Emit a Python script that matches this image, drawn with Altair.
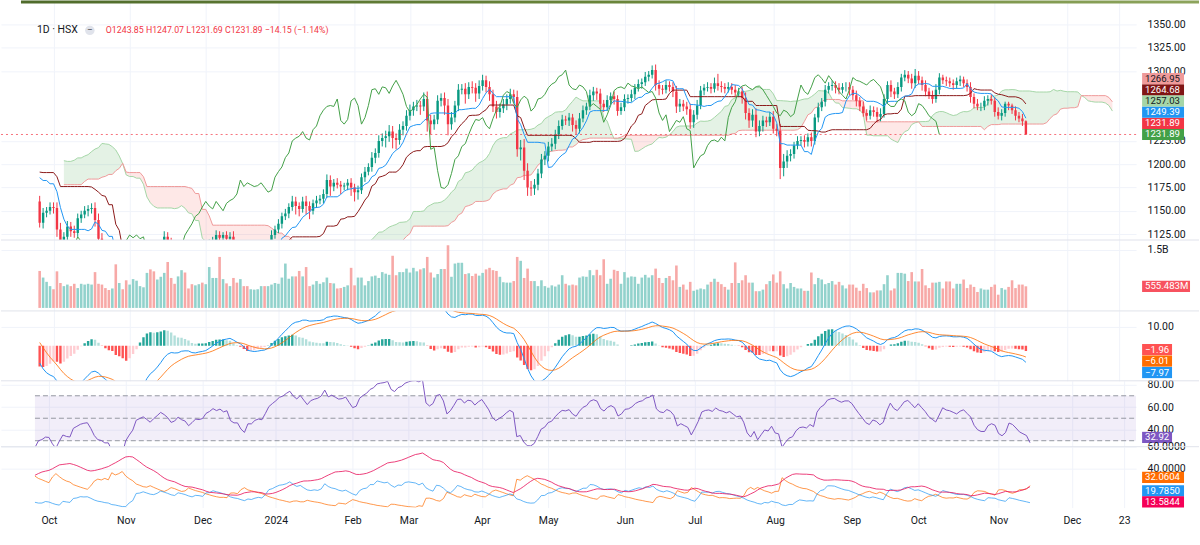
import numpy as np
import pandas as pd
import altair as alt

FONT = "Roboto"
TXT = "#131722"
GRID = "#f0f3fa"
UP, DOWN = "#089981", "#F23645"
VOL_UP, VOL_DOWN = "#92D2CC", "#F7A9A7"

# ---------------- calendar (HSX trading days) ----------------
HOLIDAYS = ["2023-09-01", "2023-09-04", "2024-01-01", "2024-02-08", "2024-02-09",
            "2024-02-12", "2024-02-13", "2024-02-14", "2024-04-18", "2024-04-29",
            "2024-04-30", "2024-05-01", "2024-09-02", "2024-09-03"]
TICK_DATES = ["2023-10-02", "2023-11-01", "2023-12-01", "2024-01-02", "2024-02-01",
              "2024-03-01", "2024-04-01", "2024-05-02", "2024-06-03", "2024-07-01",
              "2024-08-01", "2024-09-04", "2024-10-01", "2024-11-01", "2024-12-02",
              "2024-12-23"]
TICK_LABELS = ["Oct", "Nov", "Dec", "2024", "Feb", "Mar", "Apr", "May", "Jun", "Jul",
               "Aug", "Sep", "Oct", "Nov", "Dec", "23"]
FIRST_DATA = "2023-06-01"
FIRST_SHOWN = "2023-09-26"

# ---------------- daily closes (VN-Index) ----------------
C_2023_06 = [1076, 1082, 1090, 1095, 1103, 1100, 1106, 1112, 1116, 1110, 1118, 1125, 1127, 1121, 1126, 1127, 1124, 1117, 1123, 1127, 1125, 1120]
C_2023_07 = [1126, 1127, 1133, 1131, 1140, 1143, 1155, 1162, 1165, 1165, 1168, 1170, 1170, 1173, 1173, 1175, 1180, 1192, 1197, 1207, 1207]
C_2023_08 = [1215, 1218, 1213, 1217, 1222, 1229, 1227, 1235, 1233, 1238, 1240, 1230, 1225, 1177, 1179, 1185, 1190, 1183, 1176, 1190, 1200, 1207, 1225]
C_2023_09 = [1230, 1239, 1234, 1242, 1245, 1241, 1234, 1228, 1229, 1223, 1222, 1213, 1200, 1176, 1160, 1137, 1148, 1150, 1154]
C_2023_10 = [1153, 1130, 1110, 1122, 1133, 1128, 1126, 1142, 1146, 1150, 1152, 1153, 1140, 1120, 1106, 1103, 1094, 1094, 1061, 1064, 1047, 1028]
C_2023_11 = [1052, 1064, 1075, 1101, 1106, 1111, 1104, 1096, 1105, 1113, 1122, 1117, 1110, 1098, 1101, 1110, 1104, 1101, 1090, 1096, 1103, 1102]
C_2023_12 = [1104, 1114, 1118, 1124, 1121, 1124, 1120, 1122, 1107, 1103, 1103, 1092, 1085, 1097, 1097, 1102, 1104, 1103, 1112, 1124, 1130]
C_2024_01 = [1136, 1144, 1147, 1154, 1160, 1155, 1152, 1160, 1155, 1150, 1158, 1161, 1163, 1168, 1183, 1176, 1180, 1178, 1176, 1177, 1180, 1175]
C_2024_02 = [1170, 1172, 1186, 1192, 1197, 1207, 1212, 1225, 1228, 1230, 1235, 1228, 1226, 1237, 1241, 1252]
C_2024_03 = [1258, 1262, 1263, 1262, 1270, 1247, 1243, 1248, 1268, 1271, 1263, 1243, 1250, 1263, 1280, 1281, 1275, 1283, 1282, 1276, 1284]
C_2024_04 = [1290, 1283, 1275, 1262, 1256, 1260, 1264, 1270, 1275, 1272, 1216, 1218, 1193, 1175, 1174, 1178, 1190, 1205, 1209]
C_2024_05 = [1219, 1222, 1232, 1241, 1248, 1247, 1250, 1242, 1238, 1249, 1258, 1262, 1274, 1278, 1276, 1265, 1261, 1269, 1273, 1270, 1257, 1261]
C_2024_06 = [1270, 1271, 1275, 1282, 1286, 1288, 1294, 1296, 1301, 1285, 1281, 1280, 1285, 1283, 1278, 1262, 1265, 1262, 1259, 1245]
C_2024_07 = [1253, 1263, 1279, 1282, 1283, 1281, 1287, 1284, 1283, 1281, 1283, 1280, 1277, 1278, 1271, 1255, 1247, 1253, 1235, 1241, 1247, 1245, 1251]
C_2024_08 = [1238, 1236, 1196, 1203, 1209, 1211, 1220, 1225, 1226, 1224, 1229, 1225, 1250, 1261, 1267, 1280, 1284, 1285, 1282, 1280, 1283, 1283]
C_2024_09 = [1280, 1274, 1268, 1262, 1255, 1252, 1258, 1256, 1251, 1254, 1270, 1285, 1278, 1275, 1283, 1293, 1296, 1292, 1287]
C_2024_10 = [1295, 1290, 1285, 1278, 1274, 1270, 1280, 1293, 1290, 1289, 1287, 1285, 1289, 1291, 1287, 1283, 1272, 1265, 1262, 1262, 1268, 1270, 1268]
C_2024_11 = [1256, 1252, 1255, 1265, 1263, 1258, 1252, 1249, 1246.04, 1231.89]

# upper / lower wick lengths (points)
U_2023_06 = [3, 4, 5, 3, 4, 6, 3, 4, 5, 3, 6, 4, 3, 5, 4, 3, 4, 3, 5, 4, 3, 4]
D_2023_06 = [4, 3, 5, 4, 3, 4, 5, 3, 4, 6, 3, 4, 5, 3, 4, 5, 3, 6, 3, 4, 5, 3]
U_2023_07 = [4, 3, 5, 4, 6, 3, 5, 4, 3, 5, 4, 3, 4, 5, 3, 4, 6, 5, 4, 6, 5]
D_2023_07 = [3, 5, 4, 3, 4, 5, 3, 4, 5, 3, 4, 5, 3, 4, 4, 5, 3, 4, 5, 4, 6]
U_2023_08 = [5, 4, 6, 5, 4, 5, 6, 4, 5, 6, 5, 4, 6, 8, 5, 6, 5, 4, 6, 5, 6, 5, 7]
D_2023_08 = [6, 5, 4, 6, 5, 4, 5, 6, 4, 5, 6, 7, 8, 10, 9, 6, 5, 7, 6, 4, 5, 4, 5]
U_2023_09 = [5, 6, 5, 7, 6, 5, 4, 5, 4, 5, 4, 5, 6, 6, 5, 6, 5, 4, 5]
D_2023_09 = [5, 4, 6, 5, 6, 7, 6, 5, 6, 5, 6, 7, 8, 9, 7, 5, 6, 5, 4]
U_2023_10 = [5, 6, 7, 5, 6, 5, 6, 5, 4, 5, 4, 5, 6, 7, 6, 5, 6, 5, 8, 6, 7, 9]
D_2023_10 = [6, 8, 9, 7, 5, 6, 5, 4, 5, 4, 6, 5, 7, 8, 7, 6, 8, 7, 9, 8, 9, 10]
U_2023_11 = [6, 7, 5, 6, 5, 7, 6, 5, 6, 5, 6, 5, 4, 5, 4, 5, 6, 5, 4, 5, 4, 5]
D_2023_11 = [8, 6, 5, 4, 6, 5, 6, 7, 5, 6, 5, 6, 7, 6, 5, 4, 5, 6, 7, 5, 4, 5]
U_2023_12 = [4, 5, 4, 5, 4, 3, 4, 5, 6, 5, 4, 3, 4, 5, 4, 3, 4, 3, 4, 5, 4]
D_2023_12 = [5, 4, 5, 4, 5, 4, 5, 6, 7, 6, 5, 6, 7, 5, 4, 3, 4, 5, 4, 3, 4]
U_2024_01 = [5, 4, 5, 4, 6, 5, 4, 5, 6, 5, 4, 5, 4, 5, 6, 5, 4, 5, 4, 3, 4, 5]
D_2024_01 = [4, 5, 4, 5, 4, 9, 8, 4, 9, 9, 4, 5, 4, 5, 4, 10, 5, 4, 8, 4, 5, 9]
U_2024_02 = [4, 5, 4, 5, 4, 6, 5, 6, 5, 6, 7, 6, 5, 6, 5, 6]
D_2024_02 = [10, 8, 4, 5, 4, 5, 6, 5, 6, 10, 6, 11, 10, 5, 6, 5]
U_2024_03 = [6, 5, 6, 5, 7, 8, 6, 5, 6, 5, 6, 7, 6, 5, 6, 5, 6, 5, 6, 5, 6]
D_2024_03 = [5, 6, 5, 9, 5, 12, 11, 6, 5, 6, 10, 12, 6, 5, 6, 5, 10, 5, 6, 9, 6]
U_2024_04 = [6, 5, 6, 5, 6, 5, 6, 5, 6, 5, 7, 8, 9, 8, 7, 6, 5, 6, 5]
D_2024_04 = [5, 6, 7, 6, 7, 6, 5, 6, 5, 6, 8, 12, 10, 9, 8, 7, 6, 5, 6]
U_2024_05 = [5, 6, 5, 6, 5, 4, 5, 4, 5, 6, 5, 4, 6, 5, 4, 5, 4, 5, 4, 5, 4, 5]
D_2024_05 = [6, 5, 6, 5, 4, 5, 6, 7, 6, 5, 4, 5, 4, 6, 7, 6, 5, 4, 5, 6, 5, 4]
U_2024_06 = [5, 4, 5, 4, 5, 4, 5, 4, 5, 6, 5, 4, 5, 4, 5, 6, 5, 4, 5, 6]
D_2024_06 = [4, 5, 4, 5, 4, 5, 4, 5, 4, 6, 7, 5, 4, 5, 6, 7, 6, 5, 6, 7]
U_2024_07 = [5, 6, 5, 4, 5, 4, 6, 10, 5, 4, 5, 4, 5, 4, 5, 6, 5, 6, 7, 6, 5, 4, 5]
D_2024_07 = [6, 5, 4, 5, 4, 5, 4, 5, 6, 5, 4, 5, 4, 5, 6, 7, 8, 7, 6, 5, 6, 5, 4]
U_2024_08 = [6, 5, 7, 8, 6, 5, 4, 5, 4, 5, 4, 5, 4, 5, 4, 5, 4, 5, 4, 5, 4, 5]
D_2024_08 = [5, 6, 12, 9, 7, 6, 5, 4, 5, 6, 5, 6, 4, 5, 4, 5, 4, 5, 6, 5, 4, 5]
U_2024_09 = [5, 4, 5, 4, 5, 4, 5, 4, 5, 6, 5, 4, 5, 4, 5, 4, 5, 4, 5]
D_2024_09 = [6, 5, 6, 5, 4, 5, 4, 5, 6, 5, 4, 5, 6, 5, 4, 5, 4, 5, 6]
U_2024_10 = [7.21, 5, 4, 5, 4, 5, 6, 4.67, 3, 4, 4, 4, 4, 4, 3, 4, 5, 4, 5, 4, 5, 4, 5]
D_2024_10 = [5, 4, 6, 5, 4, 5, 4, 5, 4, 5, 4, 5, 4, 5, 4, 5, 6, 5, 4, 5, 4, 5, 4]
U_2024_11 = [4, 5, 4, 2.09, 2, 2, 4, 4, 5, 1.03]
D_2024_11 = [5, 4, 5, 4, 5, 4, 5, 4, 5, 0.2]

# volume (millions of shares), 26 Sep 2023 .. 14 Nov 2024
VOLUME = [
    950, 780, 670, 560, 480, 940, 640, 560, 600, 560,
    620, 510, 620, 600, 620, 600, 920, 620, 600, 510,
    460, 500, 1120, 640, 480, 710, 600, 740, 700, 560,
    530, 900, 990, 940, 730, 800, 900, 1180, 770, 620,
    810, 970, 910, 500, 610, 580, 610, 650, 610, 1050,
    770, 770, 1310, 740, 630, 560, 770, 650, 740, 560,
    560, 480, 470, 480, 560, 560, 560, 600, 640, 620,
    780, 1140, 750, 810, 810, 950, 810, 1050, 560, 600,
    690, 620, 660, 780, 640, 630, 500, 510, 540, 580,
    1030, 580, 780, 780, 580, 690, 810, 830, 770, 920,
    880, 850, 1340, 840, 920, 920, 1010, 910, 1030, 940,
    990, 1020, 1310, 910, 780, 870, 1000, 1000, 1610, 800,
    1140, 1160, 1160, 870, 890, 820, 880, 830, 900, 990,
    1030, 970, 950, 800, 660, 650, 650, 690, 1310, 1210,
    770, 1010, 690, 690, 560, 710, 560, 520, 580, 550,
    600, 840, 620, 580, 600, 580, 780, 810, 800, 970,
    840, 980, 840, 1250, 620, 750, 980, 950, 620, 920,
    780, 810, 800, 620, 780, 850, 780, 840, 1010, 770,
    640, 770, 820, 710, 1090, 540, 600, 470, 670, 440,
    470, 500, 480, 600, 670, 750, 670, 610, 540, 470,
    640, 1170, 640, 710, 840, 650, 650, 430, 430, 470,
    610, 690, 860, 650, 940, 610, 500, 640, 540, 500,
    500, 440, 440, 910, 610, 770, 730, 610, 640, 690,
    600, 670, 580, 500, 600, 600, 520, 440, 620, 510,
    400, 400, 450, 450, 610, 840, 450, 500, 900, 900,
    880, 690, 920, 680, 680, 1000, 580, 510, 650, 650,
    670, 500, 680, 680, 500, 620, 620, 730, 510, 600,
    540, 410, 500, 470, 470, 540, 600, 340, 510, 470,
    540, 710, 510, 600, 600, 555.483,
]

HEADER_SYMBOL = "1D · HSX"
HEADER_OHLC = "O1243.85 H1247.07 L1231.69 C1231.89 −14.15 (−1.14%)"

# last-value tags (value, text, background, text colour)
PRICE_TAGS = [(1231.89, "1231.89", "#43A047", "#ffffff"),
              (1231.89, "1231.89", "#F23645", "#ffffff"),
              (1249.39, "1249.39", "#2196F3", "#ffffff"),
              (1257.03, "1257.03", "#A5D6A7", "#131722"),
              (1264.68, "1264.68", "#801515", "#ffffff"),
              (1266.95, "1266.95", "#EF9A9A", "#131722")]
VOL_TAGS = [(555.483, "555.483M", "#F7525F", "#ffffff")]
MACD_TAGS = [(-1.96, "−1.96", "#FF5252", "#ffffff"),
             (-6.01, "−6.01", "#FF6D00", "#ffffff"),
             (-7.97, "−7.97", "#2196F3", "#ffffff")]
RSI_TAGS = [(32.92, "32.92", "#7E57C2", "#ffffff")]
DMI_TAGS = [(32.0604, "32.0604", "#FF6D00", "#ffffff"),
            (19.7850, "19.7850", "#2196F3", "#ffffff"),
            (13.5844, "13.5844", "#F50057", "#ffffff")]

# ---------------- assemble ----------------
MONTHS = ["2023_06", "2023_07", "2023_08", "2023_09", "2023_10", "2023_11", "2023_12",
          "2024_01", "2024_02", "2024_03", "2024_04", "2024_05", "2024_06", "2024_07",
          "2024_08", "2024_09", "2024_10", "2024_11"]
g = globals()
close, upw, dnw = [], [], []
for m in MONTHS:
    c, u, d = g["C_" + m], g["U_" + m], g["D_" + m]
    if not (len(c) == len(u) == len(d)):
        raise ValueError(f"length mismatch {m}: {len(c)} {len(u)} {len(d)}")
    close += c; upw += u; dnw += d
close = np.array(close, float)
upw = np.array(upw, float)
dnw = np.array(dnw, float)
n = len(close)

cal = pd.bdate_range(FIRST_DATA, "2025-01-31")
cal = cal[~cal.isin(pd.to_datetime(HOLIDAYS))]
cal_list = list(cal)
ORIGIN = cal_list.index(pd.Timestamp(TICK_DATES[0]))
TICK_POS = [cal_list.index(pd.Timestamp(d)) - ORIGIN for d in TICK_DATES]
SHOWN = cal_list.index(pd.Timestamp(FIRST_SHOWN)) - ORIGIN
idx = np.arange(n) - ORIGIN
if len(VOLUME) != int(idx[-1] - SHOWN + 1):
    raise ValueError(f"volume length {len(VOLUME)} vs {int(idx[-1] - SHOWN + 1)}")

opn = np.r_[close[0], close[:-1]]
high = np.maximum(opn, close) + upw
low = np.minimum(opn, close) - dnw

H, L, C = pd.Series(high), pd.Series(low), pd.Series(close)
mid = lambda k: (H.rolling(k).max() + L.rolling(k).min()) / 2
tenkan, kijun = mid(9), mid(26)
spanA = (tenkan + kijun) / 2
spanB = mid(52)
DISP = 25

ema = lambda s, k: s.ewm(span=k, adjust=False).mean()
rma = lambda s, k: s.ewm(alpha=1.0 / k, adjust=False).mean()
macd = ema(C, 12) - ema(C, 26)
sig = ema(macd, 9)
hist = macd - sig
hprev = hist.shift(1)
hcol = np.where(hist >= 0, np.where(hist > hprev, "#26A69A", "#B2DFDB"),
                np.where(hist > hprev, "#FFCDD2", "#FF5252"))

dlt = C.diff()
rsi = 100 - 100 / (1 + rma(dlt.clip(lower=0), 14) / rma((-dlt).clip(lower=0), 14))

upm = H.diff()
dnm = -L.diff()
pdm = pd.Series(np.where((upm > dnm) & (upm > 0), upm, 0.0))
mdm = pd.Series(np.where((dnm > upm) & (dnm > 0), dnm, 0.0))
tr = pd.concat([H - L, (H - C.shift(1)).abs(), (L - C.shift(1)).abs()], axis=1).max(axis=1)
atr = rma(tr, 14)
pdi = 100 * rma(pdm, 14) / atr
mdi = 100 * rma(mdm, 14) / atr
adx = rma(100 * (pdi - mdi).abs() / (pdi + mdi), 14)

base = pd.DataFrame({"i": idx, "o": opn, "h": high, "l": low, "c": close,
                     "tenkan": tenkan, "kijun": kijun, "macd": macd, "sig": sig,
                     "hist": hist, "hcol": hcol, "rsi": rsi, "pdi": pdi, "mdi": mdi,
                     "adx": adx})
vis = base[base.i >= SHOWN].copy()
vis["vol"] = VOLUME
up_mask = vis.c >= vis.o
vis["ccol"] = np.where(up_mask, UP, DOWN)
vis["vcol"] = np.where(up_mask, VOL_UP, VOL_DOWN)

cloud = pd.DataFrame({"i": idx + DISP, "A": spanA, "B": spanB}).dropna()
cloud = cloud[cloud.i >= 3].copy()
cloud["top"] = cloud[["A", "B"]].max(axis=1)
chikou = pd.DataFrame({"i": idx - DISP, "v": close})
chikou = chikou[chikou.i >= SHOWN]

# ---------------- layout ----------------
W = 1137
PX_BAR = 3.497
XMIN = -13.73
XMAX = XMIN + W / PX_BAR
PANES = {  # height, domain
    "price": (240, [1118.57, 1375.8]),
    "vol": (71, [-77, 1744]),
    "macd": (70, [-18.42, 18.42]),
    "rsi": (66, [24.67, 83.33]),
    "dmi": (61, [4.545, 60.0]),
}
LABEL_EXPR = ("[" + ",".join(f"'{s}'" for s in TICK_LABELS) + "][indexof(["
              + ",".join(str(p) for p in TICK_POS) + "], datum.value)]")
AX_FS = 10.5


def xenc(show=False, field="i:Q"):
    return alt.X(field, scale=alt.Scale(domain=[XMIN, XMAX], nice=False, zero=False),
                 axis=alt.Axis(values=TICK_POS, grid=True, gridColor=GRID, labels=show,
                               ticks=False, domain=False, title=None, labelExpr=LABEL_EXPR,
                               labelFont=FONT, labelFontSize=AX_FS, labelColor=TXT,
                               labelPadding=8, labelFlush=False, labelOverlap=False))


def make_y(pane, values, **kw):
    h, dom = PANES[pane]
    ax = alt.Axis(values=values, orient="right", grid=True, gridColor=GRID, ticks=False,
                  domain=False, title=None, labelFont=FONT, labelFontSize=AX_FS,
                  labelColor=TXT, labelPadding=11, labelAlign="left",
                  labelFlush=False, labelOverlap=False, **kw)
    sc = alt.Scale(domain=dom, nice=False, zero=False)
    return lambda f: alt.Y(f, scale=sc, axis=ax)


def tag_layers(pane, tags, yf, width, up=True, gap_px=11.2):
    h, dom = PANES[pane]
    k = h / (dom[1] - dom[0])  # px per unit
    gap = gap_px / k
    rows, prev = [], None
    for v, t, bg, fg in tags:
        if prev is None:
            p = v
        else:
            p = max(v, prev + gap) if up else min(v, prev - gap)
        prev = p
        rows.append({"pos": p, "t0": p + 5.6 / k, "t1": p - 5.6 / k, "t": t, "bg": bg, "fg": fg})
    df = pd.DataFrame(rows)
    x0 = W + 6
    box = alt.Chart(df).mark_rect(clip=False).encode(
        x=alt.value(x0), x2=alt.value(x0 + width), y=yf("t0:Q"), y2="t1:Q",
        color=alt.Color("bg:N", scale=None))
    txt = alt.Chart(df).mark_text(align="left", baseline="middle", font=FONT, fontSize=9.6,
                                  clip=False).encode(
        x=alt.value(x0 + 3), y=yf("pos:Q"), text="t:N", color=alt.Color("fg:N", scale=None))
    return [box, txt]


def separator():
    return alt.Chart(pd.DataFrame({"a": [0]})).mark_rule(color="#e0e3eb", strokeWidth=1).encode(
        x=alt.value(0), x2=alt.value(1200), y=alt.value(0))


# ---- price pane ----
yP = make_y("price", [1125, 1150, 1175, 1200, 1225, 1300, 1325, 1350], format=".2f")
cloud_g = alt.Chart(cloud).mark_area(color="#43A047", opacity=0.14, clip=True).encode(
    x=xenc(), y=yP("B:Q"), y2="top:Q")
cloud_r = alt.Chart(cloud).mark_area(color="#F44336", opacity=0.12, clip=True).encode(
    x=xenc(), y=yP("A:Q"), y2="top:Q")
lineA = alt.Chart(cloud).mark_line(color="#A5D6A7", strokeWidth=1, clip=True).encode(x=xenc(), y=yP("A:Q"))
lineB = alt.Chart(cloud).mark_line(color="#EF9A9A", strokeWidth=1, clip=True).encode(x=xenc(), y=yP("B:Q"))
ccol = alt.Color("ccol:N", scale=None)
wick = alt.Chart(vis).mark_rule(strokeWidth=1, clip=True).encode(x=xenc(), y=yP("l:Q"), y2="h:Q", color=ccol)
body = alt.Chart(vis).mark_bar(width=2.4, clip=True).encode(x=xenc(), y=yP("o:Q"), y2="c:Q", color=ccol)
kij = alt.Chart(vis).mark_line(color="#8B1A1A", strokeWidth=1, clip=True).encode(x=xenc(), y=yP("kijun:Q"))
ten = alt.Chart(vis).mark_line(color="#2196F3", strokeWidth=1, clip=True).encode(x=xenc(), y=yP("tenkan:Q"))
lag = alt.Chart(chikou).mark_line(color="#43A047", strokeWidth=1, clip=True).encode(x=xenc(), y=yP("v:Q"))
lastp = alt.Chart(pd.DataFrame({"v": [float(close[-1])]})).mark_rule(
    color=DOWN, strokeDash=[2, 3], strokeWidth=1, opacity=0.7).encode(
    x=alt.value(0), x2=alt.value(W), y=yP("v:Q"))
topbar = alt.Chart(pd.DataFrame({"a": [0]})).mark_rect(
    fill=alt.Gradient(gradient="linear", x1=0, x2=1, y1=0, y2=0,
                      stops=[alt.GradientStop(color="#4f6b2b", offset=0),
                             alt.GradientStop(color="#6f8a3e", offset=0.6),
                             alt.GradientStop(color="#8da45c", offset=1)])).encode(
    x=alt.value(20), x2=alt.value(1200), y=alt.value(0), y2=alt.value(3))
hdr1 = alt.Chart(pd.DataFrame({"t": [HEADER_SYMBOL]})).mark_text(
    align="left", baseline="middle", font=FONT, fontSize=10.5, color=TXT).encode(
    x=alt.value(36), y=alt.value(30), text="t:N")
hdr_icon = alt.Chart(pd.DataFrame({"a": [0]})).mark_point(
    shape="circle", filled=True, size=90, color="#e0e3eb", opacity=1).encode(
    x=alt.value(89), y=alt.value(30))
hdr_dash = alt.Chart(pd.DataFrame({"t": ["−"]})).mark_text(
    align="center", baseline="middle", font=FONT, fontSize=10, color="#555").encode(
    x=alt.value(89), y=alt.value(29.5), text="t:N")
hdr2 = alt.Chart(pd.DataFrame({"t": [HEADER_OHLC]})).mark_text(
    align="left", baseline="middle", font=FONT, fontSize=8.8, color=DOWN).encode(
    x=alt.value(105), y=alt.value(30), text="t:N")
price = alt.layer(cloud_g, cloud_r, lineA, lineB, wick, body, kij, ten, lag, lastp,
                  *tag_layers("price", PRICE_TAGS, yP, 42, up=True),
                  topbar, hdr1, hdr_icon, hdr_dash, hdr2).properties(width=W, height=PANES["price"][0])

# ---- volume pane ----
yV = make_y("vol", [1500], labelExpr="'1.5B'")
vbars = alt.Chart(vis).mark_bar(width=2.6, clip=True).encode(
    x=xenc(), y=yV("vol:Q"), y2=alt.datum(0), color=alt.Color("vcol:N", scale=None))
vol = alt.layer(vbars, separator(), *tag_layers("vol", VOL_TAGS, yV, 48)).properties(
    width=W, height=PANES["vol"][0])

# ---- MACD pane ----
yM = make_y("macd", [10], format=".2f")
hbars = alt.Chart(vis).mark_bar(width=2.4, clip=True).encode(
    x=xenc(), y=yM("hist:Q"), y2=alt.datum(0), color=alt.Color("hcol:N", scale=None))
mline = alt.Chart(vis).mark_line(color="#2196F3", strokeWidth=1, clip=True).encode(x=xenc(), y=yM("macd:Q"))
sline = alt.Chart(vis).mark_line(color="#FF6D00", strokeWidth=1, opacity=0.8, clip=True).encode(x=xenc(), y=yM("sig:Q"))
macdp = alt.layer(hbars, mline, sline, separator(),
                  *tag_layers("macd", MACD_TAGS, yM, 30, up=False, gap_px=11.5)).properties(
    width=W, height=PANES["macd"][0])

# ---- RSI pane ----
yR = make_y("rsi", [40, 60, 80], format=".2f")
band = alt.Chart(pd.DataFrame({"x0": [float(SHOWN)], "x1": [XMAX], "y0": [30], "y1": [70]})).mark_rect(
    color="#7E57C2", opacity=0.1, clip=True).encode(x=xenc(field="x0:Q"), x2="x1:Q", y=yR("y0:Q"), y2="y1:Q")
levels = alt.Chart(pd.DataFrame({"x0": [float(SHOWN)] * 3, "x1": [XMAX] * 3, "lv": [70, 50, 30]})).mark_rule(
    color="#9598A1", strokeDash=[5, 3], strokeWidth=1, clip=True).encode(
    x=xenc(field="x0:Q"), x2="x1:Q", y=yR("lv:Q"))
rline = alt.Chart(vis).mark_line(color="#7E57C2", strokeWidth=1, clip=True).encode(x=xenc(), y=yR("rsi:Q"))
rsip = alt.layer(band, levels, rline, separator(), *tag_layers("rsi", RSI_TAGS, yR, 30)).properties(
    width=W, height=PANES["rsi"][0])

# ---- DMI pane ----
yD = make_y("dmi", [40, 60], format=".4f")
mdl = alt.Chart(vis).mark_line(color="#FF6D00", strokeWidth=1, opacity=0.7, clip=True).encode(x=xenc(True), y=yD("mdi:Q"))
pdl = alt.Chart(vis).mark_line(color="#2196F3", strokeWidth=1, opacity=0.7, clip=True).encode(x=xenc(True), y=yD("pdi:Q"))
adl = alt.Chart(vis).mark_line(color="#E91E63", strokeWidth=1, opacity=0.85, clip=True).encode(x=xenc(True), y=yD("adx:Q"))
dmip = alt.layer(mdl, pdl, adl, separator(),
                 *tag_layers("dmi", DMI_TAGS, yD, 42, up=False, gap_px=11)).properties(
    width=W, height=PANES["dmi"][0])

chart = alt.vconcat(price, vol, macdp, rsip, dmip, spacing=0, bounds="flush", padding=0,
                    background="white").resolve_scale(x="independent", y="independent",
                                                      color="independent").configure_view(stroke=None)

chart.save("out.html", embed_options={"renderer": "svg", "actions": False})
